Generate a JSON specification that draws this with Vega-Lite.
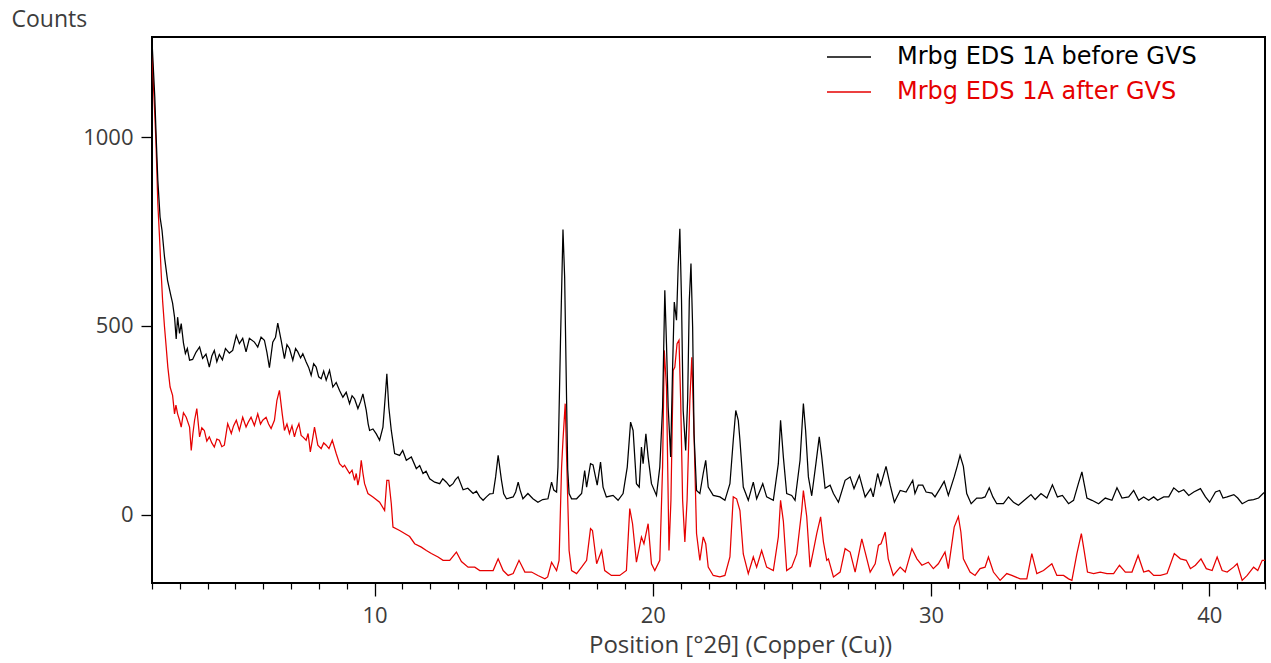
{
"$schema":"https://vega.github.io/schema/vega-lite/v6.json",
"width":1113,"height":546,
"autosize":{"type":"none"},
"padding":{"left":152,"top":37,"right":6,"bottom":80},
"background":"white",
"config":{"view":{"stroke":"#000000","strokeWidth":2},"font":"Open Sans"},
"data":{"values":[
{"s":"after","t":2.00,"c":1230},{"s":"after","t":2.05,"c":1140},{"s":"after","t":2.10,"c":1060},{"s":"after","t":2.14,"c":990},{"s":"after","t":2.17,"c":920},{"s":"after","t":2.21,"c":823},{"s":"after","t":2.27,"c":735},{"s":"after","t":2.33,"c":640},{"s":"after","t":2.38,"c":568},{"s":"after","t":2.45,"c":497},{"s":"after","t":2.51,"c":444},{"s":"after","t":2.57,"c":390},{"s":"after","t":2.65,"c":338},{"s":"after","t":2.74,"c":316},{"s":"after","t":2.81,"c":267},{"s":"after","t":2.86,"c":290},{"s":"after","t":2.92,"c":267},{"s":"after","t":2.99,"c":250},{"s":"after","t":3.05,"c":232},{"s":"after","t":3.13,"c":270},{"s":"after","t":3.23,"c":258},{"s":"after","t":3.35,"c":232},{"s":"after","t":3.41,"c":170},{"s":"after","t":3.47,"c":215},{"s":"after","t":3.53,"c":250},{"s":"after","t":3.61,"c":281},{"s":"after","t":3.71,"c":206},{"s":"after","t":3.79,"c":230},{"s":"after","t":3.88,"c":223},{"s":"after","t":3.97,"c":195},{"s":"after","t":4.06,"c":206},{"s":"after","t":4.15,"c":190},{"s":"after","t":4.24,"c":179},{"s":"after","t":4.33,"c":200},{"s":"after","t":4.42,"c":197},{"s":"after","t":4.51,"c":180},{"s":"after","t":4.60,"c":184},{"s":"after","t":4.72,"c":241},{"s":"after","t":4.85,"c":215},{"s":"after","t":4.93,"c":235},{"s":"after","t":5.03,"c":250},{"s":"after","t":5.14,"c":223},{"s":"after","t":5.26,"c":258},{"s":"after","t":5.38,"c":232},{"s":"after","t":5.46,"c":245},{"s":"after","t":5.56,"c":258},{"s":"after","t":5.68,"c":236},{"s":"after","t":5.80,"c":267},{"s":"after","t":5.90,"c":240},{"s":"after","t":5.98,"c":250},{"s":"after","t":6.10,"c":258},{"s":"after","t":6.19,"c":240},{"s":"after","t":6.28,"c":228},{"s":"after","t":6.40,"c":250},{"s":"after","t":6.49,"c":303},{"s":"after","t":6.58,"c":329},{"s":"after","t":6.68,"c":267},{"s":"after","t":6.76,"c":223},{"s":"after","t":6.85,"c":240},{"s":"after","t":6.94,"c":215},{"s":"after","t":7.03,"c":235},{"s":"after","t":7.12,"c":206},{"s":"after","t":7.19,"c":225},{"s":"after","t":7.28,"c":241},{"s":"after","t":7.36,"c":210},{"s":"after","t":7.42,"c":206},{"s":"after","t":7.54,"c":197},{"s":"after","t":7.61,"c":215},{"s":"after","t":7.69,"c":166},{"s":"after","t":7.77,"c":200},{"s":"after","t":7.84,"c":232},{"s":"after","t":7.96,"c":184},{"s":"after","t":8.08,"c":175},{"s":"after","t":8.17,"c":190},{"s":"after","t":8.26,"c":184},{"s":"after","t":8.36,"c":175},{"s":"after","t":8.48,"c":197},{"s":"after","t":8.62,"c":162},{"s":"after","t":8.74,"c":135},{"s":"after","t":8.86,"c":126},{"s":"after","t":8.92,"c":131},{"s":"after","t":9.01,"c":120},{"s":"after","t":9.10,"c":109},{"s":"after","t":9.19,"c":118},{"s":"after","t":9.28,"c":91},{"s":"after","t":9.34,"c":109},{"s":"after","t":9.40,"c":78},{"s":"after","t":9.46,"c":100},{"s":"after","t":9.52,"c":144},{"s":"after","t":9.58,"c":110},{"s":"after","t":9.64,"c":82},{"s":"after","t":9.76,"c":56},{"s":"after","t":9.94,"c":47},{"s":"after","t":10.18,"c":33},{"s":"after","t":10.36,"c":11},{"s":"after","t":10.44,"c":91},{"s":"after","t":10.51,"c":91},{"s":"after","t":10.60,"c":29},{"s":"after","t":10.66,"c":-33},{"s":"after","t":10.90,"c":-42},{"s":"after","t":11.08,"c":-50},{"s":"after","t":11.26,"c":-58},{"s":"after","t":11.44,"c":-77},{"s":"after","t":11.68,"c":-86},{"s":"after","t":11.86,"c":-95},{"s":"after","t":12.04,"c":-103},{"s":"after","t":12.28,"c":-112},{"s":"after","t":12.46,"c":-121},{"s":"after","t":12.70,"c":-121},{"s":"after","t":12.94,"c":-99},{"s":"after","t":13.12,"c":-124},{"s":"after","t":13.36,"c":-139},{"s":"after","t":13.60,"c":-139},{"s":"after","t":13.78,"c":-148},{"s":"after","t":14.08,"c":-148},{"s":"after","t":14.26,"c":-148},{"s":"after","t":14.44,"c":-117},{"s":"after","t":14.62,"c":-148},{"s":"after","t":14.80,"c":-161},{"s":"after","t":14.98,"c":-156},{"s":"after","t":15.19,"c":-121},{"s":"after","t":15.40,"c":-152},{"s":"after","t":15.64,"c":-152},{"s":"after","t":15.87,"c":-161},{"s":"after","t":16.12,"c":-170},{"s":"after","t":16.22,"c":-165},{"s":"after","t":16.36,"c":-126},{"s":"after","t":16.54,"c":-148},{"s":"after","t":16.63,"c":-121},{"s":"after","t":16.72,"c":126},{"s":"after","t":16.77,"c":197},{"s":"after","t":16.85,"c":294},{"s":"after","t":16.91,"c":126},{"s":"after","t":16.99,"c":-95},{"s":"after","t":17.08,"c":-148},{"s":"after","t":17.26,"c":-156},{"s":"after","t":17.44,"c":-139},{"s":"after","t":17.62,"c":-121},{"s":"after","t":17.76,"c":-37},{"s":"after","t":17.83,"c":-42},{"s":"after","t":17.98,"c":-130},{"s":"after","t":18.16,"c":-95},{"s":"after","t":18.27,"c":-148},{"s":"after","t":18.51,"c":-161},{"s":"after","t":18.81,"c":-161},{"s":"after","t":19.05,"c":-148},{"s":"after","t":19.17,"c":16},{"s":"after","t":19.27,"c":-24},{"s":"after","t":19.41,"c":-126},{"s":"after","t":19.59,"c":-59},{"s":"after","t":19.68,"c":-77},{"s":"after","t":19.83,"c":-24},{"s":"after","t":19.95,"c":-130},{"s":"after","t":20.07,"c":-148},{"s":"after","t":20.25,"c":-121},{"s":"after","t":20.35,"c":126},{"s":"after","t":20.41,"c":435},{"s":"after","t":20.49,"c":338},{"s":"after","t":20.58,"c":-95},{"s":"after","t":20.65,"c":38},{"s":"after","t":20.73,"c":382},{"s":"after","t":20.79,"c":391},{"s":"after","t":20.87,"c":453},{"s":"after","t":20.94,"c":462},{"s":"after","t":21.00,"c":303},{"s":"after","t":21.07,"c":38},{"s":"after","t":21.15,"c":-72},{"s":"after","t":21.23,"c":38},{"s":"after","t":21.33,"c":303},{"s":"after","t":21.40,"c":417},{"s":"after","t":21.48,"c":214},{"s":"after","t":21.57,"c":-50},{"s":"after","t":21.69,"c":-121},{"s":"after","t":21.81,"c":-59},{"s":"after","t":21.90,"c":-77},{"s":"after","t":21.99,"c":-139},{"s":"after","t":22.17,"c":-161},{"s":"after","t":22.41,"c":-165},{"s":"after","t":22.59,"c":-161},{"s":"after","t":22.77,"c":-112},{"s":"after","t":22.89,"c":47},{"s":"after","t":23.01,"c":42},{"s":"after","t":23.13,"c":11},{"s":"after","t":23.25,"c":-104},{"s":"after","t":23.43,"c":-156},{"s":"after","t":23.61,"c":-112},{"s":"after","t":23.73,"c":-139},{"s":"after","t":23.91,"c":-95},{"s":"after","t":24.09,"c":-139},{"s":"after","t":24.33,"c":-148},{"s":"after","t":24.51,"c":-59},{"s":"after","t":24.59,"c":38},{"s":"after","t":24.69,"c":-17},{"s":"after","t":24.81,"c":-148},{"s":"after","t":24.99,"c":-139},{"s":"after","t":25.17,"c":-104},{"s":"after","t":25.35,"c":11},{"s":"after","t":25.41,"c":64},{"s":"after","t":25.53,"c":-5},{"s":"after","t":25.65,"c":-139},{"s":"after","t":25.77,"c":-95},{"s":"after","t":25.89,"c":-50},{"s":"after","t":26.03,"c":-6},{"s":"after","t":26.13,"c":-72},{"s":"after","t":26.25,"c":-121},{"s":"after","t":26.31,"c":-117},{"s":"after","t":26.49,"c":-165},{"s":"after","t":26.73,"c":-152},{"s":"after","t":26.91,"c":-90},{"s":"after","t":27.09,"c":-99},{"s":"after","t":27.27,"c":-152},{"s":"after","t":27.51,"c":-64},{"s":"after","t":27.63,"c":-99},{"s":"after","t":27.81,"c":-152},{"s":"after","t":27.99,"c":-130},{"s":"after","t":28.11,"c":-81},{"s":"after","t":28.20,"c":-77},{"s":"after","t":28.35,"c":-46},{"s":"after","t":28.46,"c":-117},{"s":"after","t":28.64,"c":-161},{"s":"after","t":28.89,"c":-139},{"s":"after","t":29.07,"c":-152},{"s":"after","t":29.31,"c":-90},{"s":"after","t":29.49,"c":-117},{"s":"after","t":29.67,"c":-134},{"s":"after","t":29.90,"c":-126},{"s":"after","t":30.08,"c":-143},{"s":"after","t":30.26,"c":-130},{"s":"after","t":30.50,"c":-99},{"s":"after","t":30.62,"c":-143},{"s":"after","t":30.83,"c":-33},{"s":"after","t":30.98,"c":-5},{"s":"after","t":31.07,"c":-46},{"s":"after","t":31.16,"c":-117},{"s":"after","t":31.40,"c":-152},{"s":"after","t":31.58,"c":-161},{"s":"after","t":31.76,"c":-143},{"s":"after","t":31.94,"c":-139},{"s":"after","t":32.06,"c":-112},{"s":"after","t":32.24,"c":-152},{"s":"after","t":32.48,"c":-174},{"s":"after","t":32.72,"c":-156},{"s":"after","t":32.90,"c":-161},{"s":"after","t":33.20,"c":-170},{"s":"after","t":33.44,"c":-170},{"s":"after","t":33.62,"c":-103},{"s":"after","t":33.80,"c":-156},{"s":"after","t":34.04,"c":-148},{"s":"after","t":34.34,"c":-130},{"s":"after","t":34.52,"c":-161},{"s":"after","t":34.76,"c":-161},{"s":"after","t":34.94,"c":-170},{"s":"after","t":35.06,"c":-174},{"s":"after","t":35.24,"c":-103},{"s":"after","t":35.40,"c":-50},{"s":"after","t":35.50,"c":-95},{"s":"after","t":35.62,"c":-152},{"s":"after","t":35.84,"c":-156},{"s":"after","t":36.08,"c":-152},{"s":"after","t":36.32,"c":-156},{"s":"after","t":36.56,"c":-156},{"s":"after","t":36.77,"c":-134},{"s":"after","t":36.98,"c":-152},{"s":"after","t":37.22,"c":-152},{"s":"after","t":37.44,"c":-108},{"s":"after","t":37.64,"c":-152},{"s":"after","t":37.82,"c":-148},{"s":"after","t":38.00,"c":-161},{"s":"after","t":38.24,"c":-161},{"s":"after","t":38.48,"c":-156},{"s":"after","t":38.74,"c":-103},{"s":"after","t":38.96,"c":-117},{"s":"after","t":39.17,"c":-121},{"s":"after","t":39.32,"c":-143},{"s":"after","t":39.50,"c":-134},{"s":"after","t":39.70,"c":-117},{"s":"after","t":39.89,"c":-143},{"s":"after","t":40.10,"c":-148},{"s":"after","t":40.28,"c":-112},{"s":"after","t":40.46,"c":-148},{"s":"after","t":40.64,"c":-152},{"s":"after","t":40.87,"c":-139},{"s":"after","t":41.00,"c":-130},{"s":"after","t":41.18,"c":-174},{"s":"after","t":41.36,"c":-161},{"s":"after","t":41.59,"c":-139},{"s":"after","t":41.74,"c":-148},{"s":"after","t":41.90,"c":-121},{"s":"after","t":42.00,"c":-121},
{"s":"before","t":2.01,"c":1240},{"s":"before","t":2.10,"c":1106},{"s":"before","t":2.15,"c":1000},{"s":"before","t":2.21,"c":885},{"s":"before","t":2.29,"c":788},{"s":"before","t":2.36,"c":753},{"s":"before","t":2.45,"c":682},{"s":"before","t":2.56,"c":620},{"s":"before","t":2.69,"c":576},{"s":"before","t":2.74,"c":560},{"s":"before","t":2.81,"c":523},{"s":"before","t":2.87,"c":465},{"s":"before","t":2.92,"c":523},{"s":"before","t":2.99,"c":480},{"s":"before","t":3.05,"c":506},{"s":"before","t":3.13,"c":455},{"s":"before","t":3.20,"c":427},{"s":"before","t":3.27,"c":440},{"s":"before","t":3.35,"c":409},{"s":"before","t":3.46,"c":411},{"s":"before","t":3.58,"c":430},{"s":"before","t":3.71,"c":444},{"s":"before","t":3.82,"c":414},{"s":"before","t":3.94,"c":425},{"s":"before","t":4.06,"c":391},{"s":"before","t":4.15,"c":420},{"s":"before","t":4.24,"c":435},{"s":"before","t":4.33,"c":405},{"s":"before","t":4.42,"c":424},{"s":"before","t":4.53,"c":410},{"s":"before","t":4.64,"c":440},{"s":"before","t":4.78,"c":428},{"s":"before","t":4.90,"c":435},{"s":"before","t":5.03,"c":475},{"s":"before","t":5.14,"c":453},{"s":"before","t":5.26,"c":467},{"s":"before","t":5.38,"c":431},{"s":"before","t":5.50,"c":467},{"s":"before","t":5.68,"c":457},{"s":"before","t":5.80,"c":444},{"s":"before","t":5.92,"c":470},{"s":"before","t":6.04,"c":462},{"s":"before","t":6.13,"c":430},{"s":"before","t":6.22,"c":389},{"s":"before","t":6.34,"c":457},{"s":"before","t":6.44,"c":470},{"s":"before","t":6.52,"c":507},{"s":"before","t":6.64,"c":462},{"s":"before","t":6.76,"c":413},{"s":"before","t":6.85,"c":450},{"s":"before","t":6.94,"c":440},{"s":"before","t":7.06,"c":409},{"s":"before","t":7.16,"c":440},{"s":"before","t":7.24,"c":431},{"s":"before","t":7.34,"c":415},{"s":"before","t":7.42,"c":426},{"s":"before","t":7.54,"c":404},{"s":"before","t":7.63,"c":390},{"s":"before","t":7.72,"c":369},{"s":"before","t":7.81,"c":400},{"s":"before","t":7.90,"c":391},{"s":"before","t":7.99,"c":365},{"s":"before","t":8.08,"c":360},{"s":"before","t":8.17,"c":380},{"s":"before","t":8.26,"c":356},{"s":"before","t":8.38,"c":382},{"s":"before","t":8.50,"c":338},{"s":"before","t":8.62,"c":350},{"s":"before","t":8.74,"c":329},{"s":"before","t":8.86,"c":311},{"s":"before","t":8.98,"c":324},{"s":"before","t":9.10,"c":294},{"s":"before","t":9.19,"c":315},{"s":"before","t":9.28,"c":307},{"s":"before","t":9.40,"c":281},{"s":"before","t":9.50,"c":300},{"s":"before","t":9.58,"c":320},{"s":"before","t":9.70,"c":276},{"s":"before","t":9.77,"c":240},{"s":"before","t":9.82,"c":223},{"s":"before","t":9.94,"c":227},{"s":"before","t":10.06,"c":214},{"s":"before","t":10.18,"c":197},{"s":"before","t":10.30,"c":232},{"s":"before","t":10.39,"c":320},{"s":"before","t":10.44,"c":373},{"s":"before","t":10.51,"c":285},{"s":"before","t":10.60,"c":223},{"s":"before","t":10.72,"c":162},{"s":"before","t":10.90,"c":157},{"s":"before","t":11.01,"c":170},{"s":"before","t":11.14,"c":144},{"s":"before","t":11.32,"c":153},{"s":"before","t":11.50,"c":122},{"s":"before","t":11.62,"c":130},{"s":"before","t":11.74,"c":109},{"s":"before","t":11.85,"c":115},{"s":"before","t":11.98,"c":95},{"s":"before","t":12.16,"c":86},{"s":"before","t":12.34,"c":82},{"s":"before","t":12.45,"c":95},{"s":"before","t":12.58,"c":86},{"s":"before","t":12.70,"c":75},{"s":"before","t":12.82,"c":82},{"s":"before","t":12.90,"c":92},{"s":"before","t":13.00,"c":100},{"s":"before","t":13.18,"c":66},{"s":"before","t":13.35,"c":70},{"s":"before","t":13.54,"c":56},{"s":"before","t":13.66,"c":62},{"s":"before","t":13.78,"c":47},{"s":"before","t":13.90,"c":38},{"s":"before","t":14.02,"c":47},{"s":"before","t":14.14,"c":55},{"s":"before","t":14.26,"c":56},{"s":"before","t":14.35,"c":100},{"s":"before","t":14.44,"c":157},{"s":"before","t":14.56,"c":91},{"s":"before","t":14.64,"c":55},{"s":"before","t":14.74,"c":42},{"s":"before","t":14.98,"c":47},{"s":"before","t":15.07,"c":60},{"s":"before","t":15.16,"c":86},{"s":"before","t":15.23,"c":65},{"s":"before","t":15.33,"c":42},{"s":"before","t":15.51,"c":56},{"s":"before","t":15.69,"c":42},{"s":"before","t":15.87,"c":33},{"s":"before","t":16.04,"c":40},{"s":"before","t":16.23,"c":42},{"s":"before","t":16.36,"c":86},{"s":"before","t":16.44,"c":65},{"s":"before","t":16.54,"c":60},{"s":"before","t":16.59,"c":126},{"s":"before","t":16.68,"c":457},{"s":"before","t":16.77,"c":755},{"s":"before","t":16.83,"c":629},{"s":"before","t":16.90,"c":303},{"s":"before","t":16.94,"c":120},{"s":"before","t":16.99,"c":56},{"s":"before","t":17.08,"c":42},{"s":"before","t":17.26,"c":42},{"s":"before","t":17.44,"c":56},{"s":"before","t":17.55,"c":117},{"s":"before","t":17.62,"c":73},{"s":"before","t":17.76,"c":135},{"s":"before","t":17.85,"c":132},{"s":"before","t":18.00,"c":78},{"s":"before","t":18.12,"c":139},{"s":"before","t":18.21,"c":73},{"s":"before","t":18.33,"c":47},{"s":"before","t":18.57,"c":51},{"s":"before","t":18.75,"c":38},{"s":"before","t":18.93,"c":56},{"s":"before","t":19.08,"c":126},{"s":"before","t":19.20,"c":245},{"s":"before","t":19.29,"c":223},{"s":"before","t":19.41,"c":82},{"s":"before","t":19.51,"c":73},{"s":"before","t":19.59,"c":179},{"s":"before","t":19.65,"c":135},{"s":"before","t":19.75,"c":214},{"s":"before","t":19.83,"c":153},{"s":"before","t":19.95,"c":82},{"s":"before","t":20.13,"c":51},{"s":"before","t":20.25,"c":126},{"s":"before","t":20.35,"c":285},{"s":"before","t":20.43,"c":594},{"s":"before","t":20.49,"c":453},{"s":"before","t":20.55,"c":285},{"s":"before","t":20.64,"c":153},{"s":"before","t":20.71,"c":391},{"s":"before","t":20.77,"c":563},{"s":"before","t":20.85,"c":515},{"s":"before","t":20.91,"c":656},{"s":"before","t":20.97,"c":757},{"s":"before","t":21.03,"c":568},{"s":"before","t":21.09,"c":276},{"s":"before","t":21.18,"c":170},{"s":"before","t":21.25,"c":303},{"s":"before","t":21.31,"c":568},{"s":"before","t":21.37,"c":665},{"s":"before","t":21.43,"c":497},{"s":"before","t":21.48,"c":214},{"s":"before","t":21.57,"c":64},{"s":"before","t":21.69,"c":56},{"s":"before","t":21.81,"c":109},{"s":"before","t":21.90,"c":144},{"s":"before","t":21.99,"c":73},{"s":"before","t":22.17,"c":51},{"s":"before","t":22.41,"c":47},{"s":"before","t":22.59,"c":38},{"s":"before","t":22.77,"c":82},{"s":"before","t":22.89,"c":197},{"s":"before","t":22.98,"c":276},{"s":"before","t":23.07,"c":250},{"s":"before","t":23.13,"c":197},{"s":"before","t":23.25,"c":73},{"s":"before","t":23.43,"c":38},{"s":"before","t":23.61,"c":86},{"s":"before","t":23.73,"c":42},{"s":"before","t":23.95,"c":82},{"s":"before","t":24.09,"c":47},{"s":"before","t":24.33,"c":38},{"s":"before","t":24.51,"c":135},{"s":"before","t":24.59,"c":250},{"s":"before","t":24.69,"c":153},{"s":"before","t":24.81,"c":56},{"s":"before","t":24.99,"c":51},{"s":"before","t":25.11,"c":38},{"s":"before","t":25.29,"c":144},{"s":"before","t":25.41,"c":294},{"s":"before","t":25.49,"c":223},{"s":"before","t":25.59,"c":100},{"s":"before","t":25.71,"c":50},{"s":"before","t":25.86,"c":135},{"s":"before","t":25.98,"c":206},{"s":"before","t":26.07,"c":153},{"s":"before","t":26.19,"c":70},{"s":"before","t":26.37,"c":78},{"s":"before","t":26.49,"c":56},{"s":"before","t":26.67,"c":33},{"s":"before","t":26.91,"c":91},{"s":"before","t":27.09,"c":100},{"s":"before","t":27.23,"c":69},{"s":"before","t":27.42,"c":104},{"s":"before","t":27.63,"c":47},{"s":"before","t":27.83,"c":69},{"s":"before","t":27.92,"c":47},{"s":"before","t":28.08,"c":109},{"s":"before","t":28.19,"c":78},{"s":"before","t":28.38,"c":128},{"s":"before","t":28.53,"c":78},{"s":"before","t":28.68,"c":33},{"s":"before","t":28.89,"c":64},{"s":"before","t":29.10,"c":60},{"s":"before","t":29.34,"c":91},{"s":"before","t":29.42,"c":56},{"s":"before","t":29.54,"c":78},{"s":"before","t":29.70,"c":78},{"s":"before","t":29.82,"c":60},{"s":"before","t":30.03,"c":57},{"s":"before","t":30.14,"c":47},{"s":"before","t":30.32,"c":69},{"s":"before","t":30.47,"c":88},{"s":"before","t":30.62,"c":51},{"s":"before","t":30.83,"c":100},{"s":"before","t":30.95,"c":131},{"s":"before","t":31.04,"c":157},{"s":"before","t":31.16,"c":128},{"s":"before","t":31.28,"c":56},{"s":"before","t":31.44,"c":29},{"s":"before","t":31.64,"c":44},{"s":"before","t":31.82,"c":44},{"s":"before","t":31.94,"c":47},{"s":"before","t":32.09,"c":71},{"s":"before","t":32.22,"c":47},{"s":"before","t":32.36,"c":29},{"s":"before","t":32.60,"c":29},{"s":"before","t":32.78,"c":47},{"s":"before","t":32.96,"c":33},{"s":"before","t":33.14,"c":25},{"s":"before","t":33.38,"c":40},{"s":"before","t":33.59,"c":53},{"s":"before","t":33.74,"c":40},{"s":"before","t":33.95,"c":56},{"s":"before","t":34.16,"c":44},{"s":"before","t":34.36,"c":79},{"s":"before","t":34.54,"c":47},{"s":"before","t":34.72,"c":51},{"s":"before","t":34.94,"c":29},{"s":"before","t":35.12,"c":38},{"s":"before","t":35.30,"c":84},{"s":"before","t":35.42,"c":113},{"s":"before","t":35.50,"c":82},{"s":"before","t":35.60,"c":44},{"s":"before","t":35.78,"c":38},{"s":"before","t":36.02,"c":29},{"s":"before","t":36.26,"c":44},{"s":"before","t":36.50,"c":38},{"s":"before","t":36.68,"c":71},{"s":"before","t":36.86,"c":44},{"s":"before","t":37.10,"c":47},{"s":"before","t":37.28,"c":64},{"s":"before","t":37.46,"c":38},{"s":"before","t":37.64,"c":47},{"s":"before","t":37.82,"c":38},{"s":"before","t":38.00,"c":47},{"s":"before","t":38.14,"c":38},{"s":"before","t":38.36,"c":47},{"s":"before","t":38.54,"c":47},{"s":"before","t":38.72,"c":71},{"s":"before","t":38.90,"c":60},{"s":"before","t":39.08,"c":66},{"s":"before","t":39.26,"c":51},{"s":"before","t":39.44,"c":60},{"s":"before","t":39.68,"c":69},{"s":"before","t":39.86,"c":47},{"s":"before","t":40.01,"c":33},{"s":"before","t":40.22,"c":60},{"s":"before","t":40.37,"c":64},{"s":"before","t":40.49,"c":44},{"s":"before","t":40.64,"c":47},{"s":"before","t":40.88,"c":53},{"s":"before","t":41.02,"c":44},{"s":"before","t":41.18,"c":29},{"s":"before","t":41.41,"c":38},{"s":"before","t":41.59,"c":40},{"s":"before","t":41.77,"c":44},{"s":"before","t":41.93,"c":56},{"s":"before","t":42.00,"c":60}
]},
"layer":[
{"mark":{"type":"line","strokeWidth":1.25,"clip":true},
 "encoding":{
  "x":{"field":"t","type":"quantitative","scale":{"domain":[2,42],"nice":false,"zero":false},
       "axis":{"orient":"bottom","values":[10,20,30,40],"format":"d","tickSize":13,"tickWidth":1.3,"tickColor":"#000000","domain":false,"grid":false,"labelFontSize":22,"labelColor":"#3c3c3c","labelPadding":9,"labelFont":"Open Sans","labelFlush":false,
               "title":"Position [°2θ] (Copper (Cu))","titleFont":"Open Sans","titleFontSize":24,"titleFontWeight":"normal","titleColor":"#3c3c3c","titleX":588,"titleY":69,"titleAlign":"center","titleBaseline":"alphabetic"}},
  "y":{"field":"c","type":"quantitative","scale":{"domain":[-181,1265],"nice":false,"zero":false},
       "axis":{"values":[0,500,1000],"format":"d","tickSize":11,"tickWidth":1.3,"tickColor":"#000000","domain":false,"grid":false,"labelFontSize":22,"labelColor":"#3c3c3c","labelPadding":8,"labelFont":"Open Sans","labelFlush":false,
               "title":"Counts","titleFont":"Open Sans","titleFontSize":23,"titleFontWeight":"normal","titleColor":"#3c3c3c","titleAngle":0,"titleAlign":"left","titleBaseline":"alphabetic","titleX":-141,"titleY":-11}},
  "color":{"field":"s","type":"nominal","scale":{"domain":["before","after"],"range":["#000000","#e60000"]},
       "legend":{"orient":"none","legendX":674,"legendY":-3,"title":null,"padding":0,"symbolType":"stroke","symbolSize":1936,"symbolStrokeWidth":1.3,"labelFont":"DejaVu Sans","labelFontSize":24,"labelOffset":25,"labelLimit":600,"rowPadding":-16,
                 "labelExpr":"datum.value == 'before' ? 'Mrbg EDS 1A before GVS' : 'Mrbg EDS 1A after GVS'",
                 "labelColor":{"expr":"datum.value == 'after' ? '#e60000' : '#000000'"}}}
 }},
{"mark":{"type":"tick","opacity":0},
 "encoding":{
  "x":{"field":"t","type":"quantitative","axis":{"orient":"bottom","values":[2,3,4,5,6,7,8,9,11,12,13,14,15,16,17,18,19,21,22,23,24,25,26,27,28,29,31,32,33,34,35,36,37,38,39,41,42],"tickSize":6,"tickWidth":1.2,"tickColor":"#000000","labels":false,"domain":false,"grid":false,"title":null}}
 }}
],
"resolve":{"axis":{"x":"independent"}}
}
